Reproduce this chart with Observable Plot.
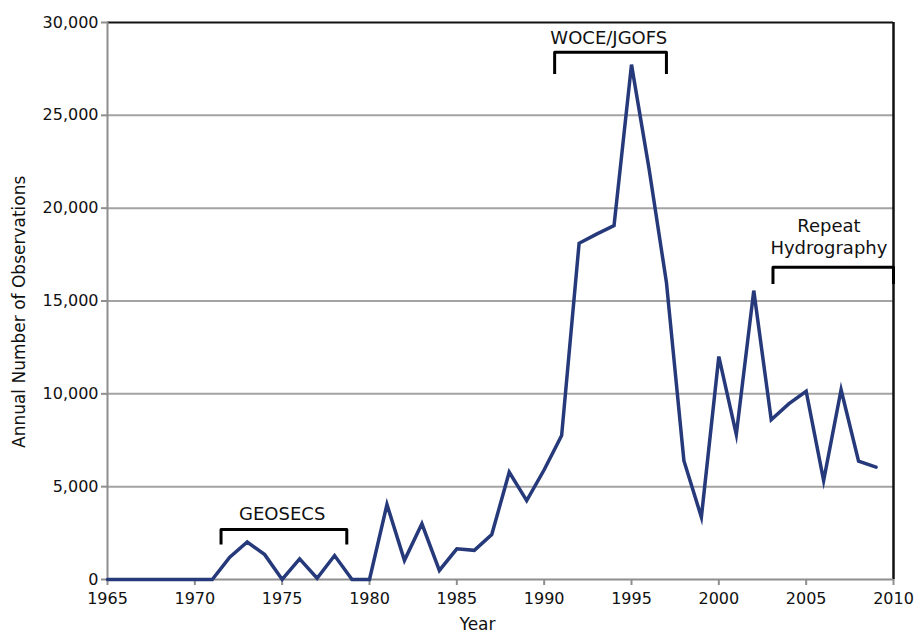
<!DOCTYPE html>
<html>
<head>
<meta charset="utf-8">
<script src="https://cdn.jsdelivr.net/npm/d3@7"></script>
<script src="https://cdn.jsdelivr.net/npm/@observablehq/plot@0.6"></script>
<style>
  html, body { margin: 0; padding: 0; background: #fff; }
</style>
</head>
<body>
<div id="chart"></div>
<script>
const years = [1965,1966,1967,1968,1969,1970,1971,1972,1973,1974,1975,1976,1977,1978,1979,
  1980,1981,1982,1983,1984,1985,1986,1987,1988,1989,1990,1991,1992,1993,1994,1995,1996,1997,
  1998,1999,2000,2001,2002,2003,2004,2005,2006,2007,2008,2009];
const observations = [0,0,0,0,0,0,0,1200,2020,1340,0,1110,70,1290,0,
  0,4040,1030,3000,490,1650,1570,2420,5780,4250,5910,7750,18110,18600,19060,27730,22150,16000,
  6400,3360,12010,7810,15560,8600,9460,10140,5330,10220,6370,6050];

const xTicks = [1965,1970,1975,1980,1985,1990,1995,2000,2005,2010];
const yTicks = [0,5000,10000,15000,20000,25000,30000];
const gridValues = [5000,10000,15000,20000,25000];

const annLabels = ["GEOSECS", "WOCE/JGOFS", "Repeat\nHydrography"];
const annLabelX = [1975.0, 1993.7, 2006.3];
const annLabelY = [3600, 29230, 18520];
const bracketStart = [1971.5, 1990.6, 2003.1];
const bracketEnd = [1978.7, 1997.0, 2010];
const bracketTop = [2690, 28400, 16820];
const bracketTip = [1890, 27230, 15920];

const xLabel = "Year";
const yLabel = "Annual Number of Observations";

const series = years.map((y, i) => ({year: y, value: observations[i]}));
const labels = annLabels.map((t, i) => ({text: t, x: annLabelX[i], y: annLabelY[i]}));
const bracketPts = [];
annLabels.forEach((t, i) => {
  bracketPts.push({k: i, x: bracketStart[i], y: bracketTip[i]});
  bracketPts.push({k: i, x: bracketStart[i], y: bracketTop[i]});
  bracketPts.push({k: i, x: bracketEnd[i], y: bracketTop[i]});
  bracketPts.push({k: i, x: bracketEnd[i], y: bracketTip[i]});
});

const axisGray = "#8e8e8e";
const gridGray = "#a3a3a3";

const chart = Plot.plot({
  width: 918,
  height: 634,
  marginLeft: 107,
  marginRight: 25,
  marginTop: 22,
  marginBottom: 55,
  style: {fontFamily: "DejaVu Sans", fontSize: "16px", background: "#fff", color: "#000"},
  x: {domain: [1965, 2010]},
  y: {domain: [0, 30000]},
  marks: [
    Plot.ruleY(gridValues, {stroke: gridGray, strokeWidth: 2}),
    Plot.ruleY([30000], {stroke: "#111", strokeWidth: 2}),
    Plot.ruleX([2010], {stroke: "#111", strokeWidth: 2.5}),
    Plot.ruleX([1965], {stroke: axisGray, strokeWidth: 2}),
    Plot.ruleY([0], {stroke: axisGray, strokeWidth: 2}),
    Plot.axisX({ticks: xTicks, tickFormat: d => String(d), tickSize: 6, tickPadding: 7,
      stroke: axisGray, strokeWidth: 2, fill: "#111", label: null, fontSize: 16}),
    Plot.axisY({ticks: yTicks, tickFormat: d3.format(","), tickSize: 6, tickPadding: 3,
      stroke: axisGray, strokeWidth: 2, fill: "#111", label: null, fontSize: 16}),
    Plot.line(series, {x: "year", y: "value", stroke: "#26397a", strokeWidth: 3.5,
      strokeLinejoin: "miter", strokeMiterlimit: 6}),
    Plot.line(bracketPts, {x: "x", y: "y", z: "k", stroke: "#000", strokeWidth: 3,
      strokeLinejoin: "round", strokeLinecap: "butt"}),
    Plot.text(labels, {x: "x", y: "y", text: "text", fontSize: 18, fill: "#111",
      lineAnchor: "middle", lineHeight: 1.22}),
    Plot.text([xLabel], {text: d => d, frameAnchor: "bottom", dy: 45, dx: -23,
      fontSize: 17, fill: "#111", lineAnchor: "middle"}),
    Plot.text([yLabel], {text: d => d, frameAnchor: "left", dx: -88, dy: 147, rotate: -90,
      fontSize: 17, fill: "#111", lineAnchor: "middle", textAnchor: "start", ariaLabel: "ylabel"})
  ]
});

document.getElementById("chart").appendChild(chart);
const yl = chart.querySelector('[aria-label="ylabel"] text');
if (yl) {
  yl.setAttribute("text-anchor", "start");
  yl.setAttribute("textLength", "350");
  yl.setAttribute("lengthAdjust", "spacingAndGlyphs");
}
</script>
</body>
</html>
